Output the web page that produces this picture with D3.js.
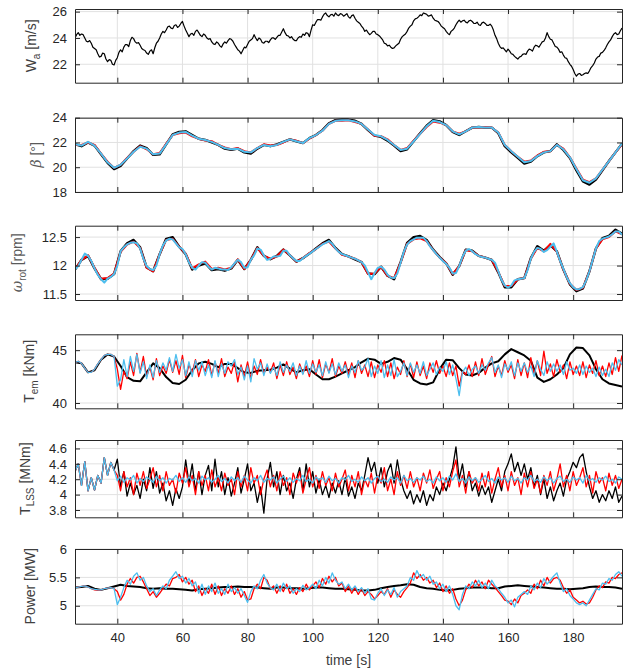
<!DOCTYPE html>
<html><head><meta charset="utf-8">
<script src="https://cdn.jsdelivr.net/npm/d3@7"></script>
<style>
body{margin:0;background:#fff}
text{font-family:"Liberation Sans",Arial,Helvetica,sans-serif}
</style></head>
<body><svg id="chart" width="633" height="671"></svg>
<script>
// ---------- data ----------
const timeStart = 27, timeEnd = 195;
const xTickValues = [40, 60, 80, 100, 120, 140, 160, 180];
const windStep = 0.5; // s between wind samples
const fineStep = 1;   // s between samples of fine series
const coarseStep = 2; // s between samples of coarse series

// Panel 1: wind speed W_a [m/s] (0.5 s samples)
const windSpeed = [
24.0,24.25,24.4,24.2,24.3,24.25,24.0,23.75,23.7,23.8,23.6,23.3,23.2,23.1,22.8,22.55,22.6,22.85,22.8,22.4,
22.2,22.35,22.3,22.0,21.95,22.3,22.5,22.9,23.1,22.95,23.3,23.5,23.5,23.35,23.8,24.05,23.95,23.7,23.6,23.65,
23.45,23.2,23.1,23.05,22.85,22.75,23.0,23.1,22.8,23.25,23.6,23.75,24.0,24.3,24.5,24.4,24.6,24.85,24.9,24.75,
24.7,24.95,25.0,24.8,24.9,25.1,25.25,24.9,24.6,24.35,24.1,24.3,24.35,24.2,24.5,24.6,24.4,24.2,24.1,24.3,
24.2,24.0,23.9,23.95,23.7,23.55,23.5,23.7,23.6,23.4,23.3,23.55,23.7,23.6,23.8,23.95,23.9,23.75,23.5,23.3,
23.1,23.0,22.8,23.05,23.3,23.25,23.5,23.75,23.85,23.95,24.25,24.0,23.8,24.0,23.9,23.65,23.6,23.75,23.75,23.65,
23.85,24.0,24.0,23.9,24.05,24.2,24.2,24.45,24.7,24.4,24.2,24.15,24.0,24.1,23.9,23.8,23.8,24.0,24.1,24.05,
24.3,24.2,24.4,24.35,24.1,24.6,25.0,24.95,25.2,25.4,25.4,25.35,25.6,25.8,25.9,25.7,25.6,25.75,25.8,25.65,
25.9,25.75,25.7,25.85,25.8,25.65,25.75,25.85,25.6,25.5,25.7,25.75,25.5,25.3,25.2,25.1,24.9,24.75,24.5,24.6,
24.4,24.25,24.35,24.5,24.5,24.3,24.25,24.15,24.0,23.85,23.6,23.55,23.4,23.45,23.3,23.2,23.25,23.4,23.5,23.6,
23.9,24.1,24.2,24.3,24.5,24.75,24.9,25.0,25.3,25.45,25.5,25.6,25.75,25.7,25.9,25.85,25.8,25.65,25.7,25.75,
25.5,25.35,25.3,25.25,25.1,24.9,24.8,24.7,24.5,24.35,24.25,24.5,24.6,24.75,25.0,25.2,25.35,25.2,25.3,25.35,
25.2,25.15,25.3,25.35,25.25,25.1,25.1,25.2,25.0,24.95,25.15,25.2,25.1,24.95,24.95,25.05,24.9,24.6,24.2,23.95,
23.6,23.35,23.2,23.25,23.1,22.95,23.15,23.0,22.8,22.75,22.6,22.5,22.4,22.55,22.6,22.75,22.8,22.75,23.0,23.15,
23.1,23.0,23.3,23.45,23.4,23.3,23.5,23.7,23.75,24.0,24.4,24.1,23.9,23.85,23.6,23.35,23.3,23.15,22.9,22.95,
22.7,22.5,22.45,22.2,22.0,21.85,21.6,21.3,21.1,21.25,21.3,21.15,21.2,21.3,21.35,21.3,21.5,21.75,21.9,22.1,
22.4,22.55,22.6,22.85,22.9,23.05,23.25,23.5,23.7,23.85,24.1,24.3,24.4,24.25,24.3,24.55,24.75];

// Panel 2: pitch angle beta [deg] (2 s samples)
const pitchBlack = [
21.85,21.7,22.0,21.75,21.05,20.35,19.85,20.1,20.7,21.3,
21.75,21.55,21.0,21.05,21.85,22.65,22.85,22.9,22.6,22.3,
22.2,22.0,21.8,21.5,21.4,21.5,21.2,21.1,21.5,21.8,
21.7,21.85,22.05,22.25,22.1,21.95,22.35,22.6,23.0,23.55,
23.8,23.85,23.85,23.75,23.5,23.0,22.55,22.45,22.15,21.75,
21.3,21.45,22.1,22.75,23.35,23.8,23.7,23.4,22.85,22.6,
22.9,23.2,23.25,23.2,23.2,22.75,21.7,21.2,20.75,20.3,
20.45,20.9,21.2,21.3,21.85,21.4,20.75,19.75,18.85,18.6,
19.0,19.75,20.5,21.2,21.9];
const pitchRed = [
21.8,21.8,22.0,21.8,21.1,20.45,19.95,20.2,20.75,21.25,
21.7,21.45,21.05,21.15,21.9,22.6,22.75,22.8,22.5,22.3,
22.15,22.1,21.8,21.6,21.45,21.55,21.3,21.2,21.55,21.85,
21.75,21.8,22.0,22.25,22.15,21.95,22.3,22.6,22.95,23.5,
23.75,23.75,23.8,23.65,23.5,23.05,22.55,22.5,22.25,21.8,
21.4,21.55,22.15,22.7,23.25,23.7,23.6,23.4,22.9,22.7,
22.9,23.2,23.2,23.25,23.2,22.8,21.8,21.3,20.85,20.45,
20.55,20.95,21.25,21.3,21.8,21.5,20.8,19.9,19.0,18.8,
19.1,19.8,20.5,21.2,21.85];
const pitchBlue = [
21.85,21.75,22.05,21.75,21.1,20.4,19.95,20.2,20.7,21.25,
21.65,21.5,21.05,21.1,21.85,22.6,22.8,22.85,22.55,22.3,
22.2,22.05,21.8,21.55,21.45,21.5,21.25,21.2,21.55,21.8,
21.7,21.8,22.05,22.25,22.1,21.95,22.35,22.6,22.95,23.5,
23.75,23.8,23.8,23.7,23.5,23.05,22.6,22.5,22.2,21.8,
21.4,21.5,22.1,22.7,23.3,23.75,23.65,23.4,22.9,22.65,
22.9,23.2,23.25,23.2,23.2,22.8,21.8,21.3,20.85,20.4,
20.5,20.9,21.2,21.3,21.8,21.45,20.8,19.85,18.95,18.75,
19.1,19.8,20.5,21.2,21.9];

// Panel 3: rotor speed [rpm]
const rotorBlack = [ // 2 s samples
11.93,12.1,12.17,11.95,11.76,11.77,11.85,12.25,12.39,12.45,
12.32,11.97,11.9,12.2,12.47,12.5,12.33,12.2,11.93,12.0,
12.04,11.92,11.94,11.91,11.95,12.1,11.94,12.1,12.32,12.17,
12.11,12.17,12.28,12.18,12.07,12.13,12.21,12.3,12.39,12.45,
12.31,12.2,12.16,12.11,12.06,11.86,11.85,11.98,11.82,11.76,
12.06,12.4,12.5,12.52,12.45,12.28,12.15,12.04,11.84,11.99,
12.28,12.26,12.17,12.14,12.1,11.88,11.62,11.62,11.76,11.78,
12.13,12.34,12.26,12.36,12.25,11.93,11.67,11.55,11.6,11.9,
12.3,12.48,12.52,12.63,12.56];
const rotorRed = [ // 2 s samples
11.93,12.1,12.18,11.96,11.77,11.78,11.86,12.24,12.37,12.42,
12.31,11.96,11.9,12.2,12.45,12.47,12.33,12.21,11.95,12.02,
12.07,11.94,11.96,11.93,11.96,12.11,11.94,12.1,12.31,12.17,
12.12,12.16,12.28,12.18,12.07,12.13,12.22,12.29,12.38,12.42,
12.3,12.19,12.16,12.12,12.06,11.85,11.86,11.98,11.82,11.78,
12.05,12.38,12.46,12.48,12.43,12.27,12.14,12.04,11.85,11.99,
12.27,12.25,12.17,12.14,12.1,11.89,11.64,11.64,11.76,11.78,
12.12,12.31,12.25,12.38,12.24,11.93,11.68,11.57,11.61,11.9,
12.3,12.46,12.5,12.6,12.55];
const rotorBlue = [ // 1 s samples
11.93,11.99,12.1,12.21,12.17,12.08,11.95,11.84,11.76,11.7,
11.77,11.8,11.85,12.0,12.25,12.32,12.37,12.4,12.41,12.39,
12.3,12.12,11.99,11.94,11.92,12.0,12.2,12.35,12.44,12.47,
12.46,12.39,12.32,12.29,12.2,12.06,11.96,11.93,12.0,12.06,
12.05,11.98,11.93,11.96,11.95,11.93,11.93,11.92,11.97,12.04,
12.1,12.06,11.96,11.97,12.1,12.18,12.3,12.28,12.18,12.1,
12.12,12.16,12.16,12.17,12.26,12.26,12.18,12.13,12.08,12.08,
12.13,12.17,12.21,12.25,12.29,12.33,12.37,12.4,12.43,12.38,
12.3,12.24,12.2,12.18,12.16,12.14,12.12,12.09,12.06,12.0,
11.88,11.76,11.87,11.96,11.98,11.93,11.84,11.79,11.78,11.86,
12.05,12.24,12.37,12.43,12.46,12.49,12.49,12.49,12.43,12.34,
12.27,12.2,12.14,12.08,12.03,11.96,11.86,11.87,11.99,12.15,
12.26,12.29,12.25,12.2,12.17,12.15,12.14,12.12,12.1,12.05,
11.9,11.75,11.65,11.61,11.65,11.74,11.76,11.77,11.78,11.92,
12.12,12.24,12.31,12.29,12.24,12.27,12.33,12.39,12.24,12.08,
11.94,11.8,11.69,11.62,11.58,11.59,11.62,11.74,11.9,12.1,
12.3,12.43,12.47,12.49,12.51,12.55,12.6,12.6,12.54];

// Panel 4: generator torque T_em [kNm]
const torqueBlack = [ // 2 s samples
43.85,43.75,42.9,43.1,44.1,44.6,44.4,43.5,42.45,42.1,
42.05,42.9,43.75,43.3,42.45,41.9,41.8,42.2,43.1,43.75,
43.9,43.7,43.4,43.7,43.7,43.3,42.9,42.85,43.05,43.1,
43.15,43.35,43.65,43.25,42.9,43.1,43.2,42.7,42.25,42.25,
42.5,42.8,43.1,43.4,43.85,44.2,44.1,43.7,43.9,44.25,
44.1,43.2,42.2,41.85,41.75,41.95,43.2,44.1,44.05,43.3,
42.7,42.6,42.85,43.35,43.75,43.95,44.6,45.1,44.8,44.5,
44.0,42.4,42.0,42.25,42.7,43.3,44.6,45.25,45.2,44.5,
43.2,42.25,41.85,41.7,41.55];
const torqueRed = [ // 1 s samples
43.85,43.95,43.75,43.3,42.9,42.9,43.2,43.7,44.1,44.5,
44.6,44.6,44.4,43.2,41.3,43.0,42.3,43.9,42.6,44.7,
42.9,44.4,42.5,43.4,42.2,44.2,42.6,43.5,42.8,44.1,
42.9,44.0,42.7,44.5,42.4,43.6,42.9,44.1,42.5,43.6,
43.0,44.1,42.6,43.9,42.8,44.2,42.5,43.4,42.8,43.9,
42.0,43.6,42.5,43.9,42.3,43.5,42.7,44.1,42.8,43.4,
42.9,43.8,42.3,43.6,42.6,43.9,42.7,43.4,42.3,43.7,
42.8,43.5,42.5,44.0,42.7,44.1,42.4,43.7,42.9,44.2,
42.5,43.5,42.8,43.9,42.7,43.8,42.4,44.0,42.8,43.6,
42.5,43.9,42.4,43.6,42.9,44.0,42.5,43.8,42.3,43.4,
42.7,44.0,42.5,43.7,42.4,43.9,42.6,43.5,42.3,43.8,
42.9,44.0,42.8,43.5,42.5,43.8,42.6,43.5,41.6,43.0,
42.7,43.6,42.5,43.9,42.6,44.2,42.7,43.6,44.4,42.5,
43.5,42.6,44.0,42.9,43.6,42.3,44.1,42.6,43.8,42.4,
44.3,42.7,44.0,42.6,44.9,42.8,43.7,42.5,44.1,42.9,
43.6,42.3,43.9,42.7,43.5,42.6,43.9,42.4,43.6,42.8,
44.0,42.6,43.5,42.5,43.8,42.7,44.3,43.0,44.5];
const torqueBlue = [ // 1 s samples
43.85,43.95,43.75,43.3,42.9,42.9,43.2,43.7,44.1,44.5,
44.6,44.6,44.4,41.6,42.2,44.1,42.5,44.4,43.0,44.6,
42.8,43.9,42.3,43.6,42.4,44.0,42.9,43.8,43.1,44.3,
43.0,44.6,43.3,44.1,42.6,43.9,42.5,44.0,43.1,43.9,
42.6,43.6,42.4,44.0,42.5,43.7,42.8,43.9,43.5,44.1,
42.7,43.4,42.2,43.5,42.0,44.2,43.2,43.8,42.6,43.7,
42.8,43.4,42.6,43.9,42.9,43.6,43.0,43.8,42.6,43.5,
42.7,44.0,42.8,43.7,42.9,43.6,42.6,43.9,42.8,43.7,
42.7,43.8,43.0,43.6,42.4,43.5,42.9,44.0,43.1,43.4,
44.2,42.5,43.5,42.8,44.0,42.4,43.6,42.6,44.1,42.5,
43.0,43.8,42.6,43.8,42.9,43.6,42.8,43.9,42.6,43.2,
43.8,42.7,43.4,43.0,43.9,42.7,43.6,42.3,40.7,42.9,
43.4,42.6,43.2,43.5,42.8,43.6,43.1,43.8,44.3,42.9,
43.6,42.4,43.7,43.1,43.9,42.6,43.8,43.0,43.8,42.9,
43.5,42.5,44.0,43.2,42.6,43.9,43.0,43.7,43.0,43.6,
42.7,43.9,43.1,43.3,42.8,43.6,42.7,43.5,42.9,43.3,
42.5,43.4,42.6,43.2,42.5,43.8,43.1,44.1,43.6];

// Panel 5: low-speed shaft torque T_LSS [MNm] (1 s samples)
const shaftBlack = [
4.30,4.40,4.12,4.43,4.05,4.22,4.06,4.25,4.15,4.48,
4.25,4.42,4.32,4.46,4.1,4.3,3.98,4.15,4.0,4.12,
3.95,4.2,4.05,4.35,4.08,4.3,4.02,4.15,3.92,4.05,
3.86,4.08,3.95,4.1,4.45,4.15,4.4,4.05,4.3,4.0,
4.25,4.38,4.05,4.46,4.1,4.3,4.0,4.22,3.98,4.15,
4.35,4.02,4.2,4.4,4.05,4.15,3.9,4.1,3.76,4.2,
4.42,4.1,4.3,4.0,4.25,4.05,4.15,3.95,4.2,4.35,
4.05,4.4,4.1,4.3,4.02,4.2,4.0,4.12,3.96,4.15,
4.02,4.18,4.0,4.22,3.98,4.1,3.95,4.15,4.05,4.25,
4.48,4.3,4.42,4.15,4.35,4.1,4.3,4.4,4.15,4.45,
4.2,4.05,3.95,4.05,3.88,4.0,3.9,4.05,3.86,4.0,
3.92,4.1,4.0,4.15,4.05,4.2,4.35,4.62,4.2,4.4,
4.1,4.3,4.05,4.15,3.98,4.12,4.0,4.1,3.9,4.05,
4.2,4.05,4.3,4.4,4.53,4.3,4.42,4.25,4.4,4.2,
4.35,4.1,4.25,4.0,4.2,3.95,4.1,3.92,4.05,4.15,
3.98,4.2,4.3,4.42,4.35,4.48,4.53,4.3,4.1,3.95,
4.05,3.9,4.0,3.92,4.05,3.95,4.1,3.9,3.98];
const shaftRed = [
4.30,4.40,4.12,4.43,4.05,4.22,4.06,4.25,4.15,4.48,
4.25,4.42,4.32,4.25,4.05,4.3,4.1,4.22,4.0,4.28,
4.12,4.3,4.08,4.2,4.35,4.1,4.25,4.05,4.3,4.12,
4.2,4.02,4.28,4.15,4.35,4.1,4.25,4.0,4.3,4.12,
4.25,4.05,4.32,4.1,4.22,4.05,4.28,4.12,4.2,4.0,
4.3,4.1,4.25,4.05,4.35,4.15,4.25,4.0,4.2,4.32,
4.1,4.25,4.05,4.3,4.12,4.22,4.0,4.28,4.15,4.3,
4.02,4.2,4.35,4.1,4.25,4.08,4.3,4.12,4.22,4.05,
4.28,4.1,4.2,4.32,4.05,4.25,4.1,4.3,4.0,4.2,
4.1,4.28,4.02,4.25,4.15,4.35,4.05,4.2,4.0,4.3,
4.12,4.25,4.08,4.3,4.1,4.22,4.05,4.28,4.15,4.32,
4.08,4.2,4.3,4.05,4.22,4.1,4.3,4.45,4.1,4.25,
4.02,4.3,4.15,4.22,4.05,4.28,4.1,4.3,4.02,4.2,
4.35,4.1,4.25,4.05,4.3,4.12,4.22,4.0,4.28,4.1,
4.3,4.08,4.2,4.02,4.25,4.12,4.3,4.05,4.2,4.4,
4.1,4.25,4.05,4.3,4.12,4.22,4.35,4.1,4.25,4.02,
4.3,4.15,4.22,4.05,4.28,4.12,4.25,4.08,4.2];
const shaftBlue = [
4.30,4.40,4.12,4.43,4.05,4.22,4.06,4.25,4.15,4.48,
4.25,4.42,4.32,4.18,4.24,4.16,4.22,4.19,4.25,4.15,
4.21,4.17,4.23,4.2,4.16,4.24,4.18,4.22,4.15,4.21,
4.19,4.25,4.17,4.22,4.16,4.23,4.18,4.21,4.15,4.24,
4.19,4.22,4.16,4.2,4.25,4.17,4.21,4.15,4.23,4.18,
4.22,4.16,4.24,4.19,4.15,4.22,4.18,4.25,4.16,4.21,
4.19,4.23,4.15,4.2,4.24,4.17,4.22,4.16,4.21,4.18,
4.25,4.17,4.2,4.15,4.23,4.19,4.22,4.16,4.24,4.18,
4.21,4.15,4.22,4.19,4.25,4.17,4.2,4.16,4.23,4.18,
4.22,4.15,4.21,4.24,4.17,4.2,4.16,4.23,4.19,4.22,
4.15,4.25,4.18,4.21,4.16,4.22,4.19,4.24,4.17,4.2,
4.15,4.23,4.18,4.22,4.16,4.24,4.19,4.27,4.17,4.21,
4.15,4.23,4.18,4.22,4.16,4.2,4.25,4.17,4.21,4.15,
4.23,4.19,4.22,4.16,4.24,4.18,4.21,4.15,4.22,4.19,
4.25,4.17,4.2,4.16,4.23,4.18,4.22,4.15,4.21,4.24,
4.17,4.2,4.16,4.23,4.19,4.22,4.15,4.25,4.18,4.21,
4.16,4.22,4.19,4.24,4.17,4.2,4.15,4.23,4.2];

// Panel 6: power [MW]
const powerBlack = [ // 2 s samples
5.32,5.33,5.35,5.3,5.28,5.31,5.34,5.37,5.35,5.34,
5.33,5.31,5.3,5.31,5.3,5.3,5.29,5.28,5.27,5.29,
5.3,5.31,5.32,5.33,5.33,5.34,5.33,5.33,5.32,5.31,
5.3,5.32,5.32,5.31,5.31,5.3,5.31,5.32,5.32,5.31,
5.3,5.3,5.29,5.28,5.27,5.27,5.28,5.31,5.33,5.35,
5.36,5.38,5.37,5.33,5.31,5.3,5.28,5.27,5.28,5.3,
5.31,5.32,5.32,5.32,5.31,5.31,5.34,5.35,5.36,5.35,
5.34,5.33,5.32,5.31,5.3,5.3,5.29,5.3,5.31,5.33,
5.34,5.33,5.33,5.32,5.3];
const powerRed = [ // 1 s samples
5.32,5.33,5.34,5.35,5.33,5.3,5.28,5.27,5.28,5.3,
5.31,5.32,5.3,5.25,5.1,5.2,5.38,5.48,5.4,5.5,
5.52,5.42,5.3,5.18,5.25,5.15,5.22,5.3,5.38,5.35,
5.48,5.5,5.55,5.42,5.5,5.38,5.45,5.25,5.35,5.18,
5.3,5.22,5.38,5.2,5.35,5.18,5.3,5.22,5.35,5.2,
5.3,5.15,5.25,5.1,5.12,5.3,5.38,5.3,5.5,5.45,
5.3,5.35,5.22,5.35,5.25,5.38,5.22,5.3,5.2,5.32,
5.25,5.38,5.28,5.35,5.42,5.32,5.48,5.38,5.52,5.42,
5.5,5.35,5.4,5.25,5.35,5.22,5.32,5.2,5.3,5.18,
5.25,5.2,5.12,5.18,5.25,5.2,5.3,5.15,5.28,5.2,
5.15,5.25,5.32,5.4,5.58,5.48,5.55,5.45,5.5,5.4,
5.45,5.32,5.4,5.25,5.35,5.22,5.3,5.12,5.0,5.1,
5.28,5.38,5.32,5.45,5.35,5.42,5.3,5.45,5.38,5.32,
5.25,5.18,5.1,5.08,5.02,5.12,5.05,5.18,5.22,5.28,
5.22,5.38,5.3,5.45,5.35,5.5,5.4,5.48,5.5,5.45,
5.32,5.22,5.28,5.15,5.1,5.05,5.08,5.03,5.05,5.15,
5.28,5.35,5.32,5.42,5.4,5.5,5.48,5.55,5.58];
const powerBlue = [ // 1 s samples
5.32,5.33,5.34,5.35,5.33,5.3,5.29,5.28,5.28,5.3,
5.31,5.32,5.3,5.02,5.15,5.32,5.45,5.38,5.52,5.58,
5.45,5.5,5.35,5.25,5.3,5.18,5.28,5.35,5.3,5.45,
5.52,5.6,5.48,5.52,5.4,5.48,5.35,5.42,5.22,5.38,
5.2,5.35,5.25,5.4,5.22,5.3,5.2,5.38,5.25,5.32,
5.22,5.3,5.18,5.06,5.25,5.35,5.3,5.45,5.55,5.4,
5.32,5.28,5.38,5.25,5.4,5.3,5.35,5.22,5.3,5.25,
5.36,5.28,5.32,5.38,5.3,5.45,5.35,5.5,5.4,5.58,
5.45,5.38,5.42,5.3,5.38,5.28,5.35,5.25,5.32,5.22,
5.3,5.12,5.1,5.22,5.3,5.18,5.28,5.2,5.32,5.15,
5.25,5.3,5.35,5.5,5.45,5.62,5.5,5.55,5.45,5.52,
5.38,5.42,5.3,5.38,5.25,5.35,5.2,5.0,4.93,5.2,
5.35,5.3,5.42,5.35,5.45,5.32,5.4,5.3,5.45,5.35,
5.3,5.22,5.15,5.05,5.1,4.98,5.15,5.2,5.25,5.2,
5.35,5.28,5.4,5.32,5.48,5.38,5.45,5.52,5.58,5.4,
5.25,5.3,5.18,5.12,5.05,5.02,5.05,5.0,5.1,5.2,
5.3,5.28,5.4,5.38,5.48,5.45,5.55,5.6,5.52];

// ---------- drawing ----------
const COL_BLACK = "#000000", COL_RED = "#ff0000", COL_BLUE = "#4dbeee";
const svg = d3.select("#chart");
const left = 75, right = 622;
const x = d3.scaleLinear().domain([timeStart, timeEnd]).range([left, right]);

const panels = [
  {top: 9, bottom: 82.7, domain: [20.6, 26.2], ticks: [22, 24, 26], labelX: 36,
   label: [["W", 0], ["a", 1], [" [m/s]", 0]],
   series: [{v: windSpeed, step: windStep, c: COL_BLACK, w: 1.2}]},
  {top: 117.7, bottom: 192, domain: [18, 24], ticks: [18, 20, 22, 24], labelX: 41, greek: true,
   label: [["β", 2], [" [°]", 0]],
   series: [{v: pitchBlack, step: coarseStep, c: COL_BLACK, w: 2.4},
            {v: pitchRed, step: coarseStep, c: COL_RED, w: 2},
            {v: pitchBlue, step: coarseStep, c: COL_BLUE, w: 2}]},
  {top: 225.7, bottom: 300, domain: [11.395, 12.7], ticks: [11.5, 12, 12.5], labelX: 22, greek: true,
   label: [["ω", 2], ["rot", 1], [" [rpm]", 0]],
   series: [{v: rotorBlack, step: coarseStep, c: COL_BLACK, w: 2.4},
            {v: rotorRed, step: coarseStep, c: COL_RED, w: 2},
            {v: rotorBlue, step: fineStep, c: COL_BLUE, w: 2}]},
  {top: 334.3, bottom: 408.3, domain: [39.5, 46.5], ticks: [40, 45], labelX: 34,
   label: [["T", 0], ["em", 1], [" [kNm]", 0]],
   series: [{v: torqueBlack, step: coarseStep, c: COL_BLACK, w: 2},
            {v: torqueRed, step: fineStep, c: COL_RED, w: 1.3},
            {v: torqueBlue, step: fineStep, c: COL_BLUE, w: 1.3}]},
  {top: 440, bottom: 517.3, domain: [3.705, 4.71], ticks: [3.8, 4, 4.2, 4.4, 4.6], labelX: 30,
   label: [["T", 0], ["LSS", 1], [" [MNm]", 0]],
   series: [{v: shaftBlack, step: fineStep, c: COL_BLACK, w: 1.3},
            {v: shaftRed, step: fineStep, c: COL_RED, w: 1.3},
            {v: shaftBlue, step: fineStep, c: COL_BLUE, w: 1.3}]},
  {top: 549, bottom: 623.7, domain: [4.684, 6], ticks: [5, 5.5, 6], labelX: 35, last: true,
   label: [["Power [MW]", 0]],
   series: [{v: powerBlack, step: coarseStep, c: COL_BLACK, w: 2},
            {v: powerRed, step: fineStep, c: COL_RED, w: 1.3},
            {v: powerBlue, step: fineStep, c: COL_BLUE, w: 1.3}]}
];

const AX = "#262626", GRID = "#e1e1e1";

panels.forEach((p, pi) => {
  const y = d3.scaleLinear().domain(p.domain).range([p.bottom, p.top]);
  const g = svg.append("g");

  // grid
  g.append("g").selectAll("line").data(xTickValues).join("line")
    .attr("x1", d => x(d)).attr("x2", d => x(d))
    .attr("y1", p.top).attr("y2", p.bottom)
    .attr("stroke", GRID).attr("stroke-width", 1);
  g.append("g").selectAll("line").data(p.ticks).join("line")
    .attr("x1", left).attr("x2", right)
    .attr("y1", d => y(d)).attr("y2", d => y(d))
    .attr("stroke", GRID).attr("stroke-width", 1);

  // clip
  const cid = "clip" + pi;
  svg.append("clipPath").attr("id", cid).append("rect")
    .attr("x", left).attr("y", p.top).attr("width", right - left).attr("height", p.bottom - p.top);

  const lines = g.append("g").attr("clip-path", `url(#${cid})`);
  p.series.forEach(s => {
    const line = d3.line()
      .x((d, i) => x(timeStart + i * s.step))
      .y(d => y(d));
    lines.append("path").datum(s.v)
      .attr("d", line)
      .attr("fill", "none")
      .attr("stroke", s.c)
      .attr("stroke-width", s.w)
      .attr("stroke-linejoin", "round");
  });

  // axes (ticks inward, box on)
  const fmt = d => String(+d.toFixed(2));
  const yl = d3.axisLeft(y).tickValues(p.ticks).tickSizeInner(-5).tickSizeOuter(0).tickPadding(8).tickFormat(fmt);
  const yr = d3.axisRight(y).tickValues(p.ticks).tickSizeInner(-5).tickSizeOuter(0).tickFormat("");
  const xt = d3.axisTop(x).tickValues(xTickValues).tickSizeInner(-5).tickSizeOuter(0).tickFormat("");
  const xb = d3.axisBottom(x).tickValues(xTickValues).tickSizeInner(-5).tickSizeOuter(0).tickPadding(9)
    .tickFormat(p.last ? d3.format("d") : "");

  const styleAxis = sel => {
    sel.selectAll("path.domain").attr("stroke", AX).attr("stroke-width", 1);
    sel.selectAll(".tick line").attr("stroke", AX).attr("stroke-width", 1);
    sel.selectAll(".tick text").attr("fill", AX).attr("font-size", 13)
      .attr("font-family", '"Liberation Sans",Arial,sans-serif');
  };
  g.append("g").attr("transform", `translate(${left},0)`).call(yl).call(styleAxis);
  g.append("g").attr("transform", `translate(${right},0)`).call(yr).call(styleAxis);
  g.append("g").attr("transform", `translate(0,${p.top})`).call(xt).call(styleAxis);
  g.append("g").attr("transform", `translate(0,${p.bottom})`).call(xb).call(styleAxis);

  // y label
  const cy = (p.top + p.bottom) / 2;
  const t = g.append("text")
    .attr("transform", `translate(${p.labelX},${cy}) rotate(-90)`)
    .attr("text-anchor", "middle")
    .attr("font-size", 14)
    .attr("fill", p.greek ? "#5a5a5a" : "#404040");
  let shift = 0;
  p.label.forEach(([txt, kind]) => {
    const ts = t.append("tspan").text(txt);
    if (kind === 1) { ts.attr("font-size", 10).attr("dy", 4 - shift); shift = 4; }
    else { ts.attr("dy", -shift); shift = 0; }
    if (kind === 2) ts.attr("font-style", "italic").attr("font-family", '"DejaVu Serif",serif');
  });
});

// x label
svg.append("text").attr("x", (left + right) / 2).attr("y", 665)
  .attr("text-anchor", "middle").attr("font-size", 14).attr("fill", "#404040")
  .text("time [s]");
</script>
</body></html>
